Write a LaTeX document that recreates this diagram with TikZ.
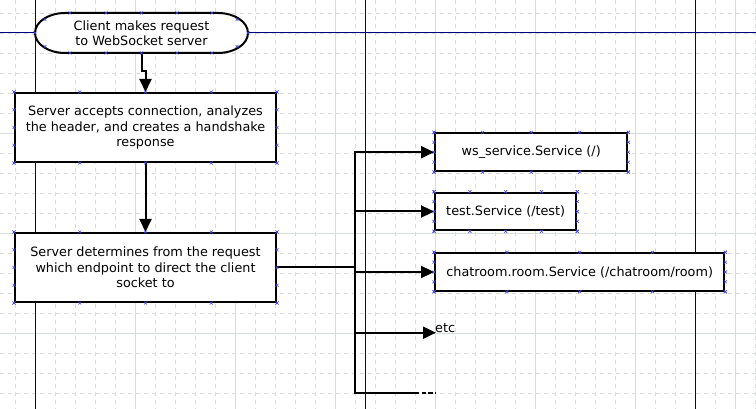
\documentclass[tikz,border=0pt]{standalone}
\usepackage{fontspec}
\setmainfont{DejaVu Sans}
\usetikzlibrary{arrows.meta,calc}
\definecolor{gridc}{RGB}{214,222,219}
\definecolor{pagec}{RGB}{0,0,128}
\definecolor{cpc}{RGB}{70,70,235}
\newcommand\cpx[1]{\draw[cp] (#1) +(-1.5,-1.5) -- +(1.5,1.5) +(-1.5,1.5) -- +(1.5,-1.5);}
\begin{document}
\begin{tikzpicture}[x=1pt,y=-1pt,
  lbl/.style={font=\fontsize{12.8}{15.5}\selectfont, text=black},
  box/.style={lbl, draw=black, line width=2pt, fill=white, inner sep=0pt, align=center},
  conn/.style={line width=2pt, black},
  arr/.style={conn, -{Triangle[length=13pt,width=12pt]}},
  cp/.style={cpc, line width=0.6pt},
  gridd/.style={gridc, line width=0.8pt, dash pattern=on 4pt off 4pt},
  grids/.style={gridc, line width=0.8pt},
  page/.style={pagec, line width=1pt}
]
\useasboundingbox (0,0) rectangle (756,409);
\fill[white] (0,0) rectangle (756,409);
\begin{scope}
\clip (0,0) rectangle (756,409);
\foreach \x in {15,35,...,755} \draw[gridd] (\x,0) -- (\x,409);
\foreach \y in {13,33,...,413} \draw[gridd] (0,\y) -- (756,\y);
\foreach \x in {135,235,...,735} \draw[grids] (\x,0) -- (\x,409);
\foreach \y in {133,233,333} \draw[grids] (0,\y) -- (756,\y);
\foreach \x in {35,365,695} \draw[page] (\x,0) -- (\x,409);
\draw[page] (0,33) -- (756,33);
\end{scope}

% terminal shape
\draw[line width=2pt, fill=white] (65,13) -- (218,13)
  arc[start angle=90, end angle=-90, x radius=30pt, y radius=20pt]
  -- (65,53) arc[start angle=270, end angle=90, x radius=30pt, y radius=20pt] -- cycle;
\node[lbl, align=center, minimum width=213pt, minimum height=40pt, inner sep=0pt] (pill) at (141.5,33) {Client makes request\\to WebSocket server};

\node[box, minimum width=261pt, minimum height=69pt] (b1) at (145.5,127.5) {Server accepts connection, analyzes\\the header, and creates a handshake\\response};
\node[box, minimum width=261pt, minimum height=69pt] (b2) at (145.5,267.5) {Server determines from the request\\which endpoint to direct the client\\socket to};
\node[box, minimum width=192.3pt, minimum height=37.7pt] (ws) at (531.2,152.2) {ws\_service.Service (/)};
\node[box, minimum width=141.3pt, minimum height=37.6pt] (test) at (505.7,211.5) {test.Service (/test)};
\node[box, minimum width=289.3pt, minimum height=37.4pt] (chat) at (579.7,272) {chatroom.room.Service (/chatroom/room)};
\node[lbl, anchor=west, inner sep=0pt] (etc) at (435,328.5) {etc};

\coordinate (jn) at (355,267.5);
\coordinate (etcTip) at (436,332.7);
\coordinate (dashA) at (415,393);
\coordinate (dashB) at (435,393);

\draw[arr] (pill.south) -- ++(0,18) -| (b1.north);
\draw[arr] (b1.south) -- (b2.north);
\draw[arr] (b2.east) -- (jn) |- (ws.west);
\draw[arr] (jn) |- (test.west);
\draw[arr] (jn) |- (chat.west);
\draw[arr] (jn) |- (etcTip);
\draw[conn] (jn) |- (dashA);
\draw[conn, dash pattern=on 4.3pt off 2.3pt] (dashA) -- (dashB);

% connection point marks
\foreach \px/\py in {35/33,248/33,45/19.5,45/46.5,237/19.5,237/46.5} {\cpx{\px,\py}}
\foreach \px in {70,106,141.5,177,212} {\cpx{\px,13}\cpx{\px,53}}
\foreach \n in {b1,b2,ws,test,chat} {
  \foreach \f in {0,0.25,0.5,0.75,1} {
    \cpx{$(\n.north west)!\f!(\n.north east)$}
    \cpx{$(\n.south west)!\f!(\n.south east)$}
    \cpx{$(\n.north west)!\f!(\n.south west)$}
    \cpx{$(\n.north east)!\f!(\n.south east)$}
  }
}
\end{tikzpicture}
\end{document}
